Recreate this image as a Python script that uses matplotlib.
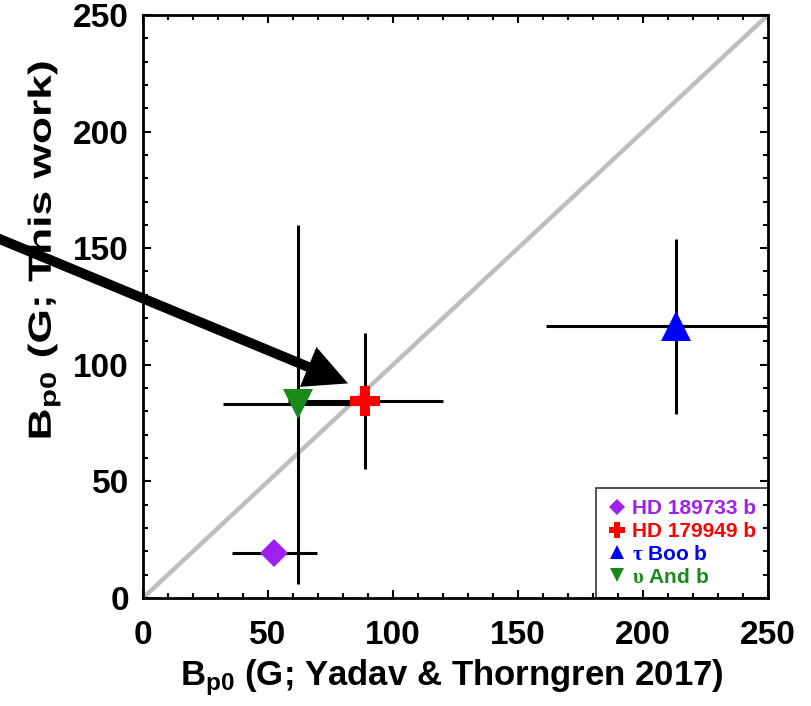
import matplotlib

matplotlib.use("Agg")
import matplotlib.pyplot as plt
from matplotlib.font_manager import FontProperties
from matplotlib.lines import Line2D
from matplotlib.patches import PathPatch
from matplotlib.textpath import TextPath
from matplotlib.ticker import MultipleLocator
from matplotlib.transforms import Affine2D, IdentityTransform

plt.rcParams["font.family"] = ["Liberation Sans", "DejaVu Sans"]
plt.rcParams["font.weight"] = "bold"
plt.rcParams["mathtext.fontset"] = "custom"
plt.rcParams["mathtext.rm"] = "Liberation Serif"
plt.rcParams["mathtext.bf"] = "Liberation Sans:bold"
plt.rcParams["mathtext.it"] = "Liberation Serif:italic"

# Planets, B_p0 from Yadav & Thorngren 2017 (x) vs this work (y), in Gauss
planets = ["HD 189733 b", "HD 179949 b", r"$\mathrm{\tau}$ Boo b", r"$\mathrm{\upsilon}$ And b"]
bp0_yt = [52.5, 89, 213, 62]
bp0_yt_err = [17, 31, 52, 30]
bp0_this = [19.5, 84.5, 116.5, 83]
bp0_this_err = [3, 29, 37.5, 77]

markers = ["D", "P", "^", "v"]
marker_sizes = [14.3, 21.6, 21.6, 21.6]
legend_marker_sizes = [8, 12, 10.5, 10.5]
colors = ["#a020f0", "#ff0000", "#0000ff", "#1a8a1a"]

axis_max = 250
arrow_tail = (-62, 156)
arrow_tip = (82, 92)

xlabel = r"$\mathbf{B_{p0}}$ (G; Yadav & Thorngren 2017)"
ylabel = r"$\mathbf{B_{p0}}$ (G; This work)"


def stretched_text(fig, text, center_px, size_px, length_px, rotation):
    """Draw text as a path, stretched along its baseline to a given length (pixels)."""
    tp = TextPath((0, 0), text, size=size_px, prop=FontProperties(family="Liberation Sans", weight="bold"))
    bb = tp.get_extents()
    tr = (
        Affine2D()
        .translate(-(bb.x0 + bb.x1) / 2, -(bb.y0 + bb.y1) / 2)
        .scale(length_px / bb.width, 1)
        .rotate_deg(rotation)
        .translate(*center_px)
    )
    patch = PathPatch(tr.transform_path(tp), facecolor="black", lw=0, transform=IdentityTransform(), zorder=1)
    fig.add_artist(patch)


fig = plt.figure(figsize=(8.11, 7.06), dpi=100)
ax = fig.add_axes([0.1763, 0.153, 0.7707, 0.8258])

# one-to-one line
ax.axline((0, 0), slope=1, color="#bebebe", lw=3.2, zorder=1)

ax.errorbar(
    bp0_yt, bp0_this, xerr=bp0_yt_err, yerr=bp0_this_err,
    fmt="none", ecolor="black", elinewidth=2.2, capsize=0, zorder=2,
)
for x, y, m, ms, c in zip(bp0_yt, bp0_this, markers, marker_sizes, colors):
    ax.plot(x, y, ls="none", marker=m, markersize=ms, color=c, mew=0, zorder=3)

ax.set_xlim(0, axis_max)
ax.set_ylim(0, axis_max)
ax.xaxis.set_major_locator(MultipleLocator(50))
ax.yaxis.set_major_locator(MultipleLocator(50))
ax.xaxis.set_minor_locator(MultipleLocator(10))
ax.yaxis.set_minor_locator(MultipleLocator(10))
ax.tick_params(which="both", direction="in", top=True, right=True, width=1.5, labelsize=24)
ax.tick_params(which="major", length=6)
ax.tick_params(which="minor", length=3.5)
ax.tick_params(axis="x", pad=16)
ax.tick_params(axis="y", pad=10)
for spine in ax.spines.values():
    spine.set_linewidth(2)

ax.text(
    0.494, -0.137, xlabel,
    transform=ax.transAxes, ha="center", va="center", fontsize=25, zorder=1,
)
stretched_text(fig, ylabel, (44, 456), 32, 375, 90)

ax.annotate(
    "", xy=arrow_tip, xytext=arrow_tail, xycoords="data", textcoords="data",
    annotation_clip=False, zorder=10,
    arrowprops=dict(
        arrowstyle="simple,head_length=3.1,head_width=3.1,tail_width=0.72",
        mutation_scale=10, facecolor="black", edgecolor="none", lw=0,
        shrinkA=0, shrinkB=0,
    ),
)

handles = [
    Line2D([], [], ls="none", marker=m, markersize=ms, color=c, mew=0)
    for m, ms, c in zip(markers, legend_marker_sizes, colors)
]
leg = ax.legend(
    handles, planets, loc="lower right", borderaxespad=0, fancybox=False,
    edgecolor="black", prop={"size": 15, "weight": "bold"}, labelcolor=colors,
    handlelength=0.9, handletextpad=0.3, labelspacing=0.18, borderpad=0.55,
)
leg.get_frame().set_facecolor("none")
leg.get_frame().set_linewidth(1.2)

fig.savefig("out.png", dpi=100)
